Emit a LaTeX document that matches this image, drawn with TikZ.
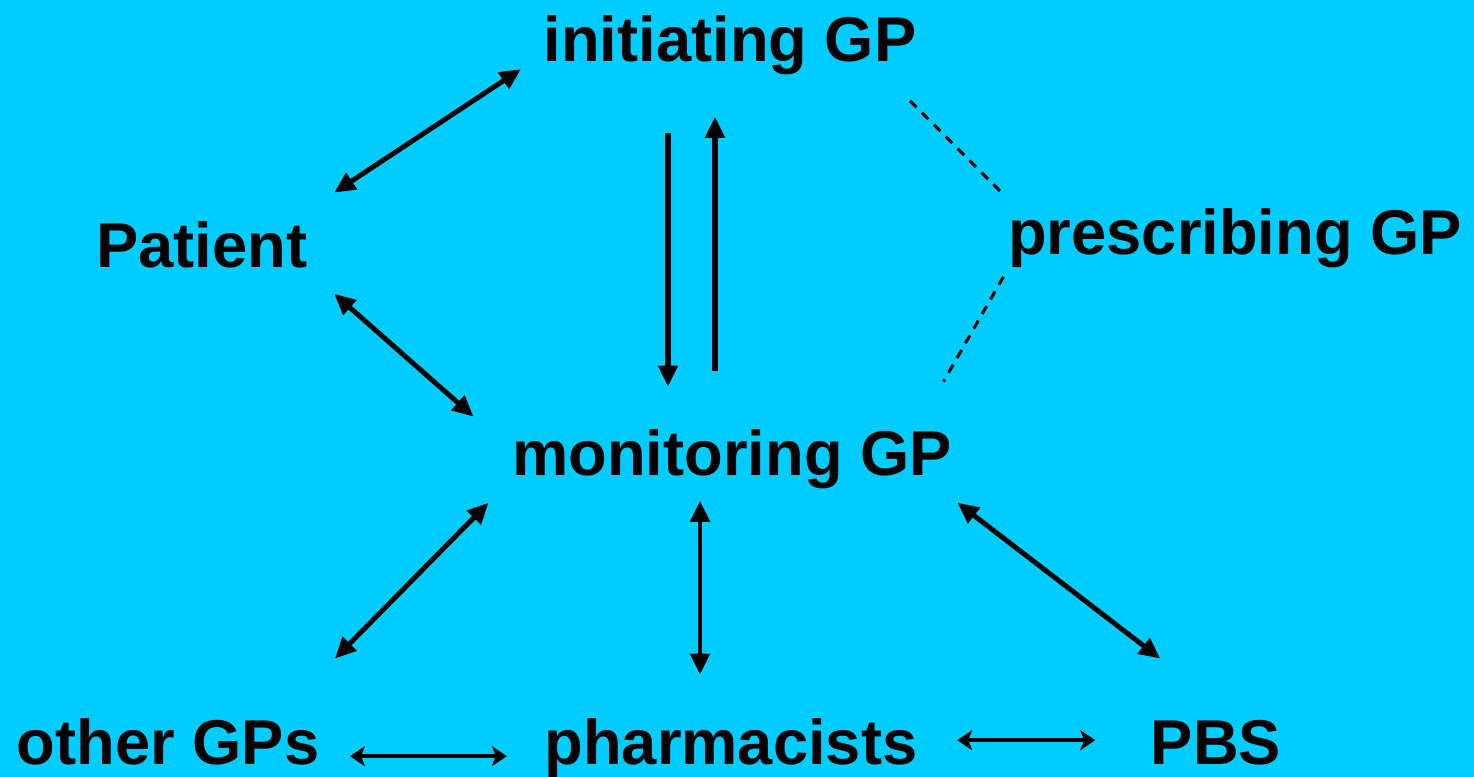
\documentclass[tikz,border=0pt]{standalone}
\usepackage{fontspec}
\setmainfont{Liberation Sans}
\usetikzlibrary{arrows.meta}
\definecolor{bgcyan}{RGB}{0,204,255}
\tikzset{
	actor/.style={font=\fontsize{18}{21}\selectfont\bfseries, inner sep=0pt, text height=13pt, text depth=4pt, anchor=base},
	link/.style={line width=1.4pt, {Triangle[length=0.21cm, width=0.19cm]}-{Triangle[length=0.21cm, width=0.19cm]}},
	flow/.style={line width=1.5pt, -{Triangle[length=0.21cm, width=0.19cm]}},
	loose/.style={line width=0.85pt, dash pattern=on 2.6pt off 2.2pt},
	peer/.style={line width=1.2pt, {Stealth[length=0.15cm, width=0.2cm, inset=0.04cm]}-{Stealth[length=0.15cm, width=0.2cm, inset=0.04cm]}}
}

\begin{document}
\begin{tikzpicture}[x=0.01cm, y=-0.01cm]
        \fill[bgcyan] (0,0) rectangle (1474,777);
        \useasboundingbox (0,0) rectangle (1474,777);

        \node[actor] (init) at (730, 62) {initiating GP};
        \node[actor] (patient) at (202, 268) {Patient};
        \node[actor] (presc) at (1235, 255) {prescribing GP};
        \node[actor] (monit) at (732, 476) {monitoring GP};
        \node[actor] (others) at (168, 764) {other GPs};
        \node[actor] (pharm) at (731, 764) {pharmacists};
        \node[actor] (pbs) at (1216, 764) {PBS};

        \draw[link] ([shift={(26,-29)}]patient.north east) -- ([shift={(-22,23)}]init.west);
        \draw[flow] ([shift={(-62,56)}]init.south) -- ([shift={(-64,-43)}]monit.north);
        \draw[flow] ([shift={(-17,-59)}]monit.north) -- ([shift={(-15,40)}]init.south);
        \draw[loose] ([shift={(-7,24)}]init.south east) -- ([shift={(-4,-14)}]presc.north west);
        \draw[loose] ([shift={(-4,7)}]presc.south west) -- ([shift={(-9,-48)}]monit.north east);
        \draw[link] ([shift={(26,11)}]patient.south east) -- ([shift={(-38,-13)}]monit.north west);

        \draw[link] ([shift={(-23,12)}]monit.south west) -- ([shift={(15,-59)}]others.north east);
        \draw[link] ([shift={(-32,10)}]monit.south) -- ([shift={(-31,-43)}]pharm.north);
        \draw[link] ([shift={(5,12)}]monit.south east) -- ([shift={(10,-59)}]pbs.north west);

        \draw[peer] ([shift={(30,8)}]others.east) -- ([shift={(-37,8)}]pharm.west);
        \draw[peer] ([shift={(39,-8)}]pharm.east) -- ([shift={(-55,-8)}]pbs.west);
\end{tikzpicture}
\end{document}
